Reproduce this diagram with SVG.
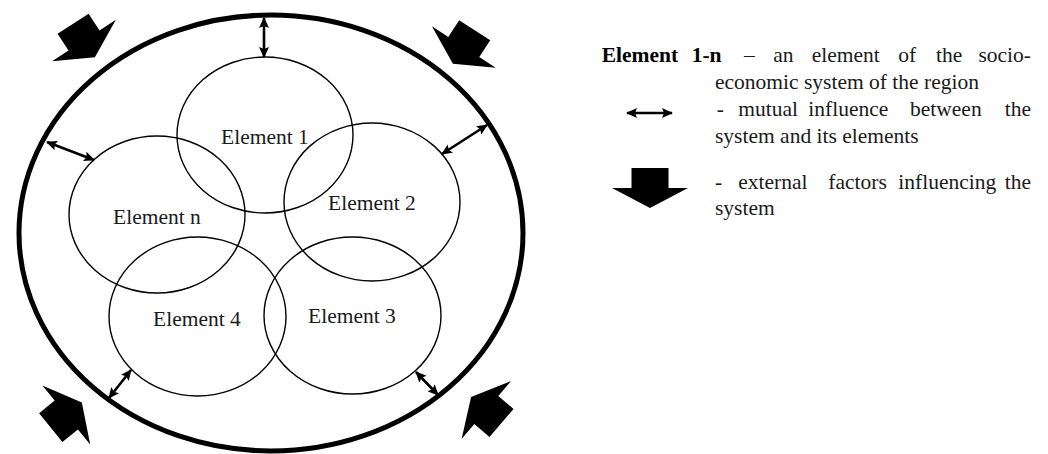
<svg xmlns="http://www.w3.org/2000/svg" xmlns:xlink="http://www.w3.org/1999/xlink" width="1048" height="454" viewBox="0 0 1048 454">
<style>
.bg{fill:#ffffff}
.sys{fill:none;stroke:#000;stroke-width:5}
.el{fill:none;stroke:#000;stroke-width:1.4}
.lbl{font-family:"Liberation Serif","Times New Roman",serif;font-size:21.5px;fill:#1a1a1a;text-anchor:middle}
.lg{font-family:"Liberation Serif","Times New Roman",serif;font-size:21.5px;fill:#1a1a1a}
.b{font-weight:bold;fill:#000}
.dbl{stroke:#000;stroke-width:2.6;fill:none;marker-start:url(#ah);marker-end:url(#ah)}
.blk{fill:#000}
</style>
<defs>
<marker id="ah" markerUnits="userSpaceOnUse" markerWidth="12" markerHeight="10" refX="10" refY="5" orient="auto-start-reverse" viewBox="0 0 12 10">
<path d="M0,0 L11,5 L0,10 L2,5 z" fill="#000"/>
</marker>
<path id="bigArrow" d="M-18.5,-20 L18.5,-20 L18.5,0 L38,0 L0,20 L-38,0 L-18.5,0 Z"/>
</defs>
<rect class="bg" x="0" y="0" width="1048" height="454"/>
<g id="system">
<ellipse class="sys" cx="271" cy="233" rx="252" ry="218"/>
</g>
<g id="element1">
<ellipse class="el" cx="265" cy="135" rx="88" ry="78"/>
<text class="lbl" x="265" y="144">Element 1</text>
</g>
<g id="element2">
<ellipse class="el" cx="372" cy="202" rx="88" ry="79"/>
<text class="lbl" x="372" y="210">Element 2</text>
</g>
<g id="elementN">
<ellipse class="el" cx="157" cy="214.5" rx="88" ry="78.5"/>
<text class="lbl" x="157" y="224">Element n</text>
</g>
<g id="element4">
<ellipse class="el" cx="197.5" cy="316.5" rx="88.5" ry="79.5"/>
<text class="lbl" x="197" y="326">Element 4</text>
</g>
<g id="element3">
<ellipse class="el" cx="352.5" cy="315.5" rx="88.5" ry="78.5"/>
<text class="lbl" x="352" y="323">Element 3</text>
</g>
<g id="connectors">
<line class="dbl" x1="264" y1="18" x2="264" y2="57"/>
<line class="dbl" x1="47" y1="142" x2="94" y2="160"/>
<line class="dbl" x1="487" y1="125" x2="442" y2="154"/>
<line class="dbl" x1="131" y1="370" x2="109" y2="398"/>
<line class="dbl" x1="416" y1="372" x2="438" y2="395"/>
</g>
<g id="external-factors" class="blk">
<use xlink:href="#bigArrow" transform="translate(84,40.5) rotate(-33)"/>
<use xlink:href="#bigArrow" transform="translate(463.8,47) rotate(33)"/>
<use xlink:href="#bigArrow" transform="translate(66.3,415) rotate(-129)"/>
<use xlink:href="#bigArrow" transform="translate(486.3,410) rotate(130.5)"/>
</g>
<g id="legend">
<text class="lg b" x="601.7" y="62">Element</text>
<text class="lg b" x="691.7" y="62">1-n</text>
<text class="lg" x="744" y="62">–</text>
<text class="lg" x="773.3" y="62">an</text>
<text class="lg" x="811.7" y="62">element</text>
<text class="lg" x="898.3" y="62">of</text>
<text class="lg" x="936" y="62">the</text>
<text class="lg" x="1031" y="62" text-anchor="end">socio-</text>
<text class="lg" x="715" y="89">economic system of the region</text>
<line class="dbl" x1="627" y1="113" x2="672" y2="113"/>
<text class="lg" x="716.7" y="116">-</text>
<text class="lg" x="738.3" y="116">mutual</text>
<text class="lg" x="808.3" y="116">influence</text>
<text class="lg" x="910" y="116">between</text>
<text class="lg" x="1031" y="116" text-anchor="end">the</text>
<text class="lg" x="715" y="142.5">system and its elements</text>
<use class="blk" xlink:href="#bigArrow" transform="translate(650,188)"/>
<text class="lg" x="715" y="189">-</text>
<text class="lg" x="738.3" y="189">external</text>
<text class="lg" x="828.3" y="189">factors</text>
<text class="lg" x="898.3" y="189">influencing</text>
<text class="lg" x="1031" y="189" text-anchor="end">the</text>
<text class="lg" x="715" y="215">system</text>
</g>
</svg>
